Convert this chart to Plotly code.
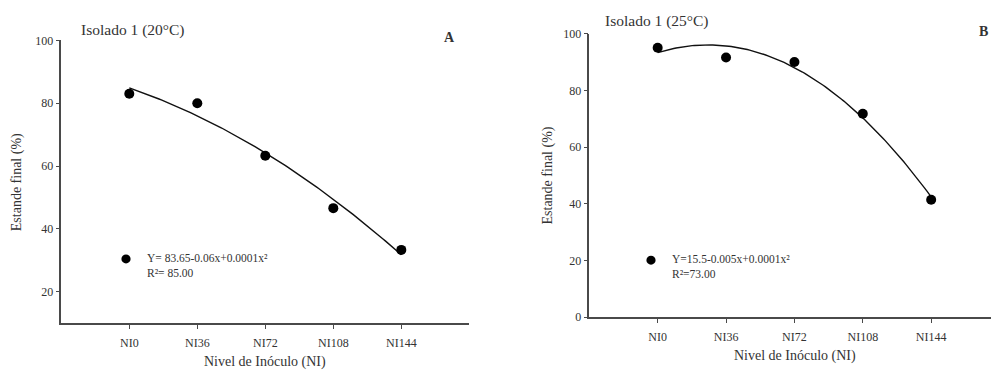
import numpy as np
import plotly.graph_objects as go

# Inoculum levels (x) and tick labels
doses = [0, 36, 72, 108, 144]
tick_labels = ["NI0", "NI36", "NI72", "NI108", "NI144"]

# Final stand (%) for Isolado 1 at two temperatures
stand_20c = [83.0, 80.0, 63.3, 46.6, 33.3]
stand_25c = [95.1, 91.7, 90.1, 71.8, 41.4]

eq_20c = "Y= 83.65-0.06x+0.0001x²<br>R²= 85.00"
eq_25c = "Y=15.5-0.005x+0.0001x²<br>R²=73.00"

W, H = 991, 376
FONT = "Liberation Serif"
TXT = "#333333"
LINE = "#4a4a4a"


def px(x):
    return x / W


def py(y):
    return 1 - y / H


def quad_fit(x, y):
    coef = np.polyfit(x, y, 2)
    xs = np.linspace(min(x), max(x), 120)
    return xs, np.polyval(coef, xs)


fig = go.Figure()

for data, xa, ya in [(stand_20c, "x", "y"), (stand_25c, "x2", "y2")]:
    xs, ys = quad_fit(doses, data)
    fig.add_trace(go.Scatter(x=xs, y=ys, mode="lines", xaxis=xa, yaxis=ya,
                             line=dict(color="#111111", width=1.4),
                             showlegend=False, hoverinfo="skip"))
    fig.add_trace(go.Scatter(x=doses, y=data, mode="markers", xaxis=xa, yaxis=ya,
                             marker=dict(color="black", size=10),
                             showlegend=False))

axis_common = dict(showline=True, linecolor=LINE, linewidth=1.5, mirror=False,
                   ticks="outside", ticklen=4, tickwidth=1.3, tickcolor=LINE,
                   showgrid=False, zeroline=False,
                   tickfont=dict(family=FONT, size=12, color=TXT))
x_extra = dict(ticklabelstandoff=4)

fig.update_layout(
    width=W, height=H,
    margin=dict(l=0, r=0, t=0, b=0),
    paper_bgcolor="white", plot_bgcolor="white",
    font=dict(family=FONT, color=TXT),
    xaxis=dict(axis_common, **x_extra, domain=[px(61.3), px(469.3)], range=[-36, 180],
               tickvals=doses, ticktext=tick_labels, anchor="y"),
    yaxis=dict(axis_common, domain=[py(328.3), py(34.7)], range=[10, 100],
               tickvals=[20, 40, 60, 80, 100], anchor="x"),
    xaxis2=dict(axis_common, **x_extra, domain=[px(589.3), 1.0], range=[-36, 175.5],
                tickvals=doses, ticktext=tick_labels, anchor="y2"),
    yaxis2=dict(axis_common, domain=[py(322), py(28)], range=[0, 100],
                tickvals=[0, 20, 40, 60, 80, 100], anchor="x2"),
)

# Legend dots beside the regression equations
for cx, cy in [(126, 261.7), (651, 263)]:
    r = 4.6
    fig.add_shape(type="circle", xref="paper", yref="paper",
                  x0=px(cx - r), x1=px(cx + r), y0=py(cy + r), y1=py(cy - r),
                  fillcolor="black", line=dict(width=0))


def note(text, x, y, size, xanchor="left", yanchor="middle", bold=False, angle=0):
    if bold:
        text = f"<b>{text}</b>"
    fig.add_annotation(text=text, x=px(x), y=py(y), xref="paper", yref="paper",
                       xanchor=xanchor, yanchor=yanchor, showarrow=False, textangle=angle,
                       align="left", font=dict(family=FONT, size=size, color=TXT))


# Panel titles and letters
note("Isolado 1 (20°C)", 79, 24, 15.5)
note("A", 449, 32, 14, xanchor="center", bold=True)
note("Isolado 1 (25°C)", 603, 14.5, 15.5)
note("B", 983, 25.5, 14, xanchor="center", bold=True)

# Axis titles
note("Nivel de Inóculo (NI)", 265, 369, 14, xanchor="center")
note("Nivel de Inóculo (NI)", 795, 363, 14, xanchor="center")
note("Estande final (%)", 17, 182, 14, xanchor="center", angle=-90)
note("Estande final (%)", 548, 175, 14, xanchor="center", angle=-90)

# Regression equations
note(eq_20c, 145, 268.5, 11.5)
note(eq_25c, 670, 269.5, 11.5)

fig.write_html("out.html")
